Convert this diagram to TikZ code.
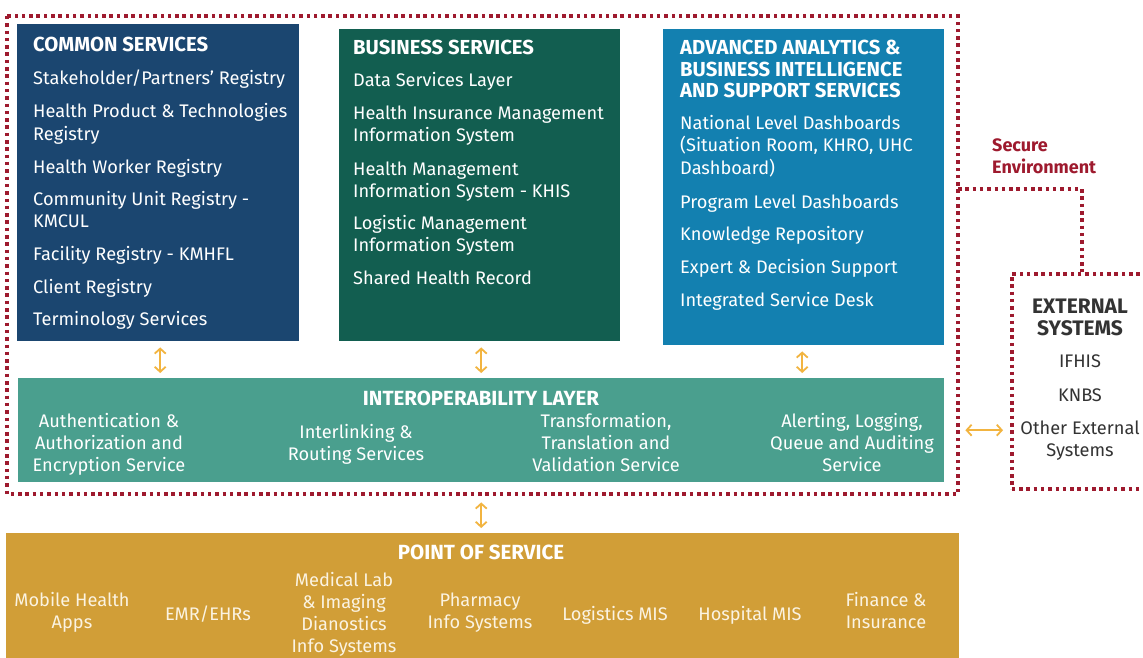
\documentclass[tikz,border=0pt]{standalone}
\usepackage{fontspec}
\setmainfont{Fira Sans}
\usetikzlibrary{arrows.meta}
\definecolor{cblue}{HTML}{1B4670}
\definecolor{cgreen}{HTML}{125E50}
\definecolor{clight}{HTML}{1380B0}
\definecolor{cteal}{HTML}{4A9F8E}
\definecolor{cgold}{HTML}{D19E37}
\definecolor{cred}{HTML}{9E1A2E}
\definecolor{carrow}{HTML}{F2B440}
\definecolor{cgray}{HTML}{333333}
\definecolor{ccream}{HTML}{FBF3E2}
\tikzset{
  panel/.style={draw=none, anchor=north west, inner sep=0pt},
  ttl/.style={anchor=base west, inner sep=0pt, text=white, font=\fontsize{20.3}{21.5}\selectfont\bfseries, align=left},
  itm/.style={anchor=base west, inner sep=0pt, text=white, font=\fontsize{18.2}{22}\selectfont, align=left},
  citm/.style={anchor=base, inner sep=0pt, text=white, font=\fontsize{18.2}{22}\selectfont, align=center},
  ctl/.style={anchor=base, inner sep=0pt, text=white, font=\fontsize{20.5}{21.5}\selectfont\bfseries, align=center},
  secure/.style={draw=cred, line width=3.5pt, dash pattern=on 3.5pt off 3.8pt},
  arr/.style={draw=carrow, line width=1.8pt, {Straight Barb[length=5pt,width=11pt]}-{Straight Barb[length=5pt,width=11pt]}},
}
\begin{document}
\begin{tikzpicture}[x=1pt,y=-1pt]
\useasboundingbox (0,0) rectangle (1143,658);
\clip (0,0) rectangle (1143,658);
\fill[white] (0,0) rectangle (1143,658);

% secure environment
\draw[secure] (7,16) rectangle (958,494);
\draw[secure] (958,189) -- (1082,189) -- (1082,272);
\node[panel, minimum width=150pt, minimum height=215pt, secure] (ext) at (1010,272) {};

% panels
\node[panel, fill=cblue, minimum width=282pt, minimum height=317pt] (common) at (17,24) {};
\node[panel, fill=cgreen, minimum width=281pt, minimum height=312pt] (business) at (339,29) {};
\node[panel, fill=clight, minimum width=281pt, minimum height=316pt] (advanced) at (663,29) {};
\node[panel, fill=cteal, minimum width=926pt, minimum height=104pt] (interop) at (18,378) {};
\node[panel, fill=cgold, minimum width=953pt, minimum height=140pt] (pos) at (6,533) {};

% common services
\node[ttl] (c0) at (33,52) {COMMON SERVICES};
\node[itm] (c1) at (33,85) {Stakeholder/Partners' Registry};
\node[itm] (c2) at (33,140) {Health Product \& Technologies\\Registry};
\node[itm] (c3) at (33,173) {Health Worker Registry};
\node[itm] (c4) at (33,227) {Community Unit Registry -\\KMCUL};
\node[itm] (c5) at (33,260) {Facility Registry - KMHFL};
\node[itm] (c6) at (33,293) {Client Registry};
\node[itm] (c7) at (33,325) {Terminology Services};

% business services
\node[ttl] (b0) at (353,55) {BUSINESS SERVICES};
\node[itm] (b1) at (353,87) {Data Services Layer};
\node[itm] (b2) at (353,142) {Health Insurance Management\\Information System};
\node[itm] (b3) at (353,197) {Health Management\\Information System - KHIS};
\node[itm] (b4) at (353,251) {Logistic Management\\Information System};
\node[itm] (b5) at (353,284) {Shared Health Record};

% advanced analytics
\node[ttl] (a0) at (680,98) {ADVANCED ANALYTICS \&\\BUSINESS INTELLIGENCE\\AND SUPPORT SERVICES};
\node[itm] (a1) at (680,174) {National Level Dashboards\\(Situation Room, KHRO, UHC\\Dashboard)};
\node[itm] (a2) at (680,208) {Program Level Dashboards};
\node[itm] (a3) at (680,240) {Knowledge Repository};
\node[itm] (a4) at (680,273) {Expert \& Decision Support};
\node[itm] (a5) at (680,306) {Integrated Service Desk};

% interoperability
\node[ctl] (i0) at (481,405) {INTEROPERABILITY LAYER};
\node[citm] (i1) at (109,471) {Authentication \&\\Authorization and\\Encryption Service};
\node[citm] (i2) at (356,460) {Interlinking \&\\Routing Services};
\node[citm] (i3) at (606,471) {Transformation,\\Translation and\\Validation Service};
\node[citm] (i4) at (852,471) {Alerting, Logging,\\Queue and Auditing\\Service};

% point of service
\node[ctl] (p0) at (481,559) {POINT OF SERVICE};
\node[citm, text=ccream] (p1) at (72,628) {Mobile Health\\Apps};
\node[citm, text=ccream] (p2) at (208,620) {EMR/EHRs};
\node[citm, text=ccream] (p3) at (344,652) {Medical Lab\\\& Imaging\\Dianostics\\Info Systems};
\node[citm, text=ccream] (p4) at (480,628) {Pharmacy\\Info Systems};
\node[citm, text=ccream] (p5) at (615,620) {Logistics MIS};
\node[citm, text=ccream] (p6) at (750,620) {Hospital MIS};
\node[citm, text=ccream] (p7) at (886,628) {Finance \&\\Insurance};

% secure environment label
\node[anchor=base west, inner sep=0pt, text=cred, font=\fontsize{18}{21}\selectfont\bfseries, align=left] (sec) at (992,173) {Secure\\Environment};

% external systems
\node[anchor=base, inner sep=0pt, text=cgray, font=\fontsize{21}{21.5}\selectfont\bfseries, align=center] (e0) at (1080,335) {EXTERNAL\\SYSTEMS};
\node[citm, text=cgray] (e1) at (1080,367) {IFHIS};
\node[citm, text=cgray] (e2) at (1080,401) {KNBS};
\node[citm, text=cgray] (e3) at (1080,456) {Other External\\Systems};

% arrows
\draw[arr, shorten <=6pt, shorten >=5pt] ([xshift=2pt]common.south) -- ([xshift=2pt]common.south |- interop.north);
\draw[arr, shorten <=6pt, shorten >=5pt] ([xshift=1.5pt]business.south) -- ([xshift=1.5pt]business.south |- interop.north);
\draw[arr, shorten <=6pt, shorten >=5pt] ([xshift=-1.5pt]advanced.south) -- ([xshift=-1.5pt]advanced.south |- interop.north);
\draw[arr, shorten <=20pt, shorten >=5pt] (interop.south) -- (interop.south |- pos.north);
\draw[arr, shorten <=21pt, shorten >=7pt] (interop.east) -- (interop.east -| ext.west);
\end{tikzpicture}
\end{document}
